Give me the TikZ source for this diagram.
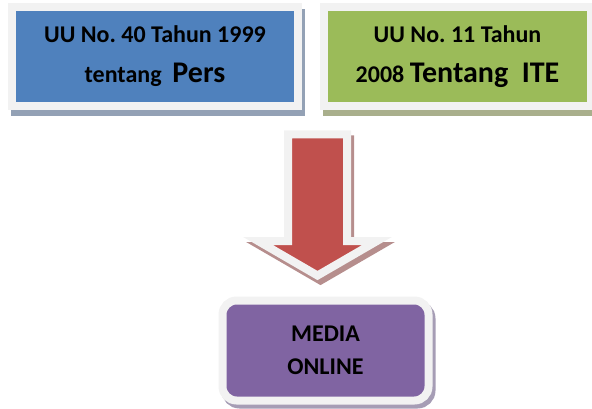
\documentclass[tikz,border=0pt]{standalone}
\usepackage{fontspec}
\setmainfont{Carlito}
\frenchspacing
\definecolor{marco}{HTML}{F2F2F2}
\definecolor{azul}{HTML}{4F81BD}
\definecolor{verde}{HTML}{9BBB59}
\definecolor{rojo}{HTML}{C0504D}
\definecolor{morado}{HTML}{8064A2}
\definecolor{sombraazul}{HTML}{93A1B5}
\definecolor{sombraverde}{HTML}{A9AF8C}
\definecolor{sombrarojo}{HTML}{B68E8D}
\definecolor{sombramorado}{HTML}{A69DB5}
\tikzset{
  sombra/.style 2 args={preaction={draw=#1, fill=#1, line width=8pt,
      transform canvas={shift={(#2)}}}},
  caja/.style={draw=marco, fill=#1, line width=8pt, align=center,
      font=\bfseries\fontsize{24}{40}\selectfont, inner sep=0pt}
}
\begin{document}
\begin{tikzpicture}[x=1pt,y=-1pt]
   \useasboundingbox (0,0) rectangle (592,409);

   \node[caja=azul, sombra={sombraazul}{3pt,-6pt},
      minimum width=286pt, minimum height=99pt] (pers) at (155,56.5)
      {UU No. 40 Tahun 1999\\tentang\ \ {\fontsize{30}{40}\selectfont Pers}};

   \node[caja=verde, sombra={sombraverde}{3pt,-6pt},
      minimum width=267pt, minimum height=99pt] (ite) at (457.5,56.5)
      {UU No. 11 Tahun\\2008 {\fontsize{30}{40}\selectfont Tentang\ \ ITE}};

   \node[caja=morado, sombra={sombramorado}{3pt,-4pt}, rounded corners=14pt,
      minimum width=206pt, minimum height=100pt,
      font=\bfseries\fontsize{24}{33}\selectfont] (media) at (325.5,350.5)
      {MEDIA\\ONLINE};

   % flecha hacia abajo
   \draw[draw=marco, fill=rojo, line width=8pt, line join=miter,
      sombra={sombrarojo}{3pt,-5pt}]
   (288,134.5) -- (347,134.5) -- (347,241) -- (377,241) --
   (317.5,275.5) -- (258,241) -- (288,241) -- cycle;

 \end{tikzpicture}
\end{document}
